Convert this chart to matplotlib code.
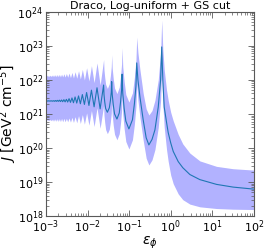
import numpy as np
import matplotlib
matplotlib.use('Agg')
import matplotlib.pyplot as plt
import matplotlib as mpl

params = {
    'font.size': 8,
    'axes.labelsize': 10,
    'xtick.labelsize': 8,
    'ytick.labelsize': 8,
    'xtick.direction': 'in',
    'ytick.direction': 'in',
    'xtick.top': True,
    'ytick.right': True,
    'xtick.major.pad': 2,
    'ytick.major.pad': 2,
    'axes.linewidth': 0.8,
    'axes.edgecolor': '0.35',
}
mpl.rcParams.update(params)

# log10 of eps_phi (troughs / peaks of the resonances, left to right)
log_eps = [
    -3.00, -2.995, -2.976, -2.958, -2.939, -2.921, -2.900, -2.881, -2.860, -2.840,
    -2.818, -2.796, -2.774, -2.750, -2.727, -2.702, -2.677, -2.651, -2.624, -2.597,
    -2.568, -2.539, -2.508, -2.477, -2.444, -2.410, -2.374, -2.338, -2.299, -2.259,
    -2.216, -2.172, -2.124, -2.075, -2.022, -1.966, -1.906, -1.842, -1.772, -1.697,
    -1.613, -1.604, -1.586, -1.564, -1.523, -1.476, -1.450, -1.429, -1.419,
    -1.406, -1.381, -1.350, -1.293, -1.237, -1.206, -1.181, -1.169,
    -1.153, -1.120, -1.079, -1.005, -0.920, -0.873, -0.836, -0.817,
    -0.788, -0.740, -0.661, -0.590, -0.525, -0.450, -0.380, -0.300, -0.243, -0.216,
    -0.190, -0.156, -0.100, -0.060, 0.000, 0.060, 0.180, 0.290, 0.460, 0.700,
    1.100, 1.500, 2.000,
]

# log10 J, central curve
log_J_mid = [
    21.38, 21.376, 21.388, 21.376, 21.388, 21.376, 21.388, 21.376, 21.388, 21.374,
    21.390, 21.372, 21.395, 21.370, 21.400, 21.370, 21.405, 21.365, 21.410, 21.360,
    21.420, 21.355, 21.430, 21.350, 21.450, 21.340, 21.470, 21.330, 21.500, 21.320,
    21.530, 21.300, 21.570, 21.280, 21.630, 21.250, 21.700, 21.210, 21.770, 21.150,
    21.85, 21.57, 21.35, 21.16, 21.05, 21.18, 21.39, 21.64, 21.95,
    21.57, 21.27, 21.00, 20.85, 21.03, 21.35, 21.71, 22.17,
    21.61, 21.17, 20.79, 20.56, 20.83, 21.30, 21.82, 22.50,
    22.00, 21.50, 20.82, 20.30, 20.09, 20.25, 20.53, 21.20, 22.00, 22.97,
    22.00, 21.20, 20.75, 20.45, 20.15, 19.90, 19.60, 19.42, 19.22, 19.07,
    18.93, 18.85, 18.79,
]

# log10 J, upper edge of the band
log_J_hi = [
    22.12, 22.10, 22.14, 22.10, 22.14, 22.10, 22.14, 22.10, 22.145, 22.10,
    22.15, 22.10, 22.155, 22.095, 22.16, 22.095, 22.165, 22.09, 22.17, 22.09,
    22.18, 22.085, 22.19, 22.08, 22.20, 22.07, 22.22, 22.06, 22.24, 22.05,
    22.27, 22.03, 22.31, 22.00, 22.36, 21.97, 22.42, 21.92, 22.50, 21.85,
    22.60, 22.30, 22.07, 21.87, 21.75, 21.89, 22.13, 22.39, 22.74,
    22.34, 22.03, 21.76, 21.60, 21.79, 22.11, 22.48, 22.95,
    22.39, 21.96, 21.57, 21.35, 21.62, 22.08, 22.59, 23.26,
    22.80, 22.30, 21.60, 21.15, 20.97, 21.10, 21.40, 22.00, 22.80, 23.76,
    22.90, 22.30, 21.70, 21.40, 21.05, 20.80, 20.40, 20.12, 19.85, 19.62,
    19.46, 19.39, 19.35,
]

# log10 J, lower edge of the band
log_J_lo = [
    20.82, 20.80, 20.84, 20.80, 20.84, 20.80, 20.84, 20.80, 20.845, 20.79,
    20.85, 20.79, 20.855, 20.785, 20.86, 20.78, 20.865, 20.775, 20.87, 20.77,
    20.87, 20.77, 20.87, 20.77, 20.88, 20.76, 20.90, 20.75, 20.92, 20.74,
    20.95, 20.72, 20.98, 20.70, 21.03, 20.67, 21.10, 20.63, 21.18, 20.58,
    21.25, 20.96, 20.74, 20.54, 20.42, 20.55, 20.77, 21.02, 21.35,
    20.96, 20.66, 20.40, 20.24, 20.42, 20.74, 21.09, 21.55,
    21.00, 20.57, 20.19, 19.97, 20.24, 20.70, 21.22, 21.90,
    21.40, 20.90, 20.22, 19.70, 19.50, 19.65, 19.95, 20.60, 21.40, 22.35,
    21.30, 20.60, 19.95, 19.60, 19.20, 18.95, 18.65, 18.48, 18.35, 18.27,
    18.22, 18.20, 18.19,
]

eps = 10**np.array(log_eps)
J_mid = 10**np.array(log_J_mid)
J_hi = 10**np.array(log_J_hi)
J_lo = 10**np.array(log_J_lo)

fig = plt.figure(figsize=(2.67, 2.48), dpi=100)
ax = fig.add_axes([0.172, 0.129, 0.779, 0.823])

ax.fill_between(eps, J_lo, J_hi, color='b', alpha=0.3, linewidth=0)
ax.plot(eps, J_mid, color='C0', linewidth=0.8)

ax.set_xscale('log')
ax.set_yscale('log')
ax.set_xlim(1e-3, 1e2)
ax.set_ylim(1e18, 1e24)
ax.tick_params(which='major', length=4, width=0.6, color='0.35')
ax.tick_params(which='minor', length=2, width=0.5, color='0.35')

ax.set_title('Draco, Log-uniform + GS cut', fontsize=8, pad=2)
ax.set_xlabel(r'$\epsilon_\phi$')
ax.set_ylabel(r'$J$ [GeV$^2$ cm$^{-5}$]')
ax.xaxis.set_label_coords(0.5, -0.09)
ax.yaxis.set_label_coords(-0.128, 0.5)

fig.savefig('out.png', dpi=100)
